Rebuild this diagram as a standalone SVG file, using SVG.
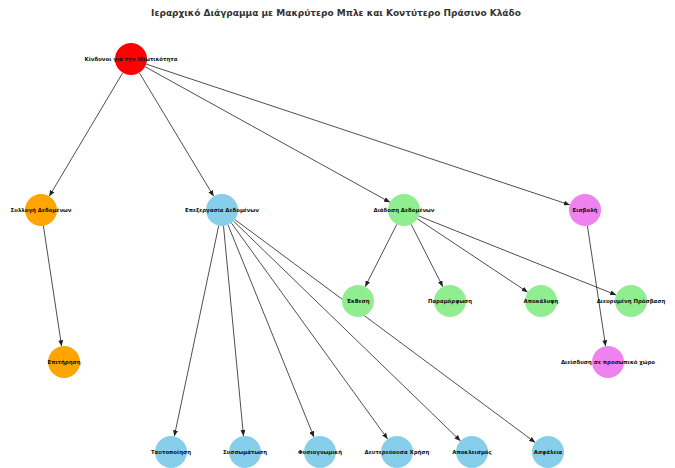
<svg xmlns="http://www.w3.org/2000/svg" width="675" height="468" viewBox="0 0 675 468">
<defs>
<marker id="arr" markerUnits="userSpaceOnUse" markerWidth="6" markerHeight="5" viewBox="0 0 6 5" refX="6" refY="2.5" orient="auto">
<path d="M0,0 L6,2.5 L0,5 z" fill="#222"/>
</marker>
</defs>
<style>
.e{stroke:#222;stroke-width:0.8;fill:none;marker-end:url(#arr)}
.n{stroke:none}
.t{font-family:"DejaVu Sans",sans-serif;font-weight:bold;font-size:5.4px;fill:#111;text-anchor:middle;dominant-baseline:central}
.title{font-family:"DejaVu Sans",sans-serif;font-weight:bold;font-size:9px;fill:#333;text-anchor:middle}
</style>
<rect width="675" height="468" fill="#fff"/>
<text class="title" x="336" y="16">Ιεραρχικό Διάγραμμα με Μακρύτερο Μπλε και Κοντύτερο Πράσινο Κλάδο</text>
<g id="edges">
<line class="e" x1="122.8" y1="72.7" x2="49.2" y2="196.3"/>
<line class="e" x1="139.3" y1="72.7" x2="213.7" y2="196.3"/>
<line class="e" x1="145.0" y1="66.7" x2="390.0" y2="202.3"/>
<line class="e" x1="146.2" y1="64.1" x2="569.8" y2="204.9"/>
<line class="e" x1="43.4" y1="225.8" x2="61.6" y2="346.2"/>
<line class="e" x1="587.4" y1="225.8" x2="605.6" y2="346.2"/>
<line class="e" x1="396.8" y1="224.3" x2="365.2" y2="286.7"/>
<line class="e" x1="411.2" y1="224.3" x2="442.8" y2="286.7"/>
<line class="e" x1="417.3" y1="218.8" x2="527.7" y2="292.2"/>
<line class="e" x1="418.8" y1="216.0" x2="616.2" y2="295.0"/>
<line class="e" x1="218.7" y1="225.7" x2="174.3" y2="436.3"/>
<line class="e" x1="223.5" y1="225.9" x2="243.5" y2="436.1"/>
<line class="e" x1="228.0" y1="224.8" x2="314.0" y2="437.2"/>
<line class="e" x1="231.4" y1="223.0" x2="387.6" y2="439.0"/>
<line class="e" x1="233.5" y1="221.1" x2="460.5" y2="440.9"/>
<line class="e" x1="234.8" y1="219.5" x2="535.2" y2="442.5"/>
</g>
<g id="root"><circle class="n" cx="131" cy="59" r="16" fill="#ff0000"/><text class="t" x="131" y="59">Κίνδυνοι για την Ιδιωτικότητα</text></g>
<g id="n_syllogi"><circle class="n" cx="41" cy="210" r="16" fill="#ffa500"/><text class="t" x="41" y="210">Συλλογή Δεδομένων</text></g>
<g id="n_epexergasia"><circle class="n" cx="222" cy="210" r="16" fill="#87ceeb"/><text class="t" x="222" y="210">Επεξεργασία Δεδομένων</text></g>
<g id="n_diadosi"><circle class="n" cx="404" cy="210" r="16" fill="#90ee90"/><text class="t" x="404" y="210">Διάδοση Δεδομένων</text></g>
<g id="n_eisvoli"><circle class="n" cx="585" cy="210" r="16" fill="#ee82ee"/><text class="t" x="585" y="210">Εισβολή</text></g>
<g id="n_epitirisi"><circle class="n" cx="64" cy="362" r="16" fill="#ffa500"/><text class="t" x="64" y="362">Επιτήρηση</text></g>
<g id="n_diisdysi"><circle class="n" cx="608" cy="362" r="16" fill="#ee82ee"/><text class="t" x="608" y="362">Διείσδυση σε προσωπικό χώρο</text></g>
<g id="n_ekthesi"><circle class="n" cx="358" cy="301" r="16" fill="#90ee90"/><text class="t" x="358" y="301">Έκθεση</text></g>
<g id="n_paramorfosi"><circle class="n" cx="450" cy="301" r="16" fill="#90ee90"/><text class="t" x="450" y="301">Παραμόρφωση</text></g>
<g id="n_apokalypsi"><circle class="n" cx="541" cy="301" r="16" fill="#90ee90"/><text class="t" x="541" y="301">Αποκάλυψη</text></g>
<g id="n_dievrymeni"><circle class="n" cx="631" cy="301" r="16" fill="#90ee90"/><text class="t" x="631" y="301">Διευρυμένη Πρόσβαση</text></g>
<g id="n_taftopoiisi"><circle class="n" cx="171" cy="452" r="16" fill="#87ceeb"/><text class="t" x="171" y="452">Ταυτοποίηση</text></g>
<g id="n_syssomatosi"><circle class="n" cx="245" cy="452" r="16" fill="#87ceeb"/><text class="t" x="245" y="452">Συσσωμάτωση</text></g>
<g id="n_fysiognomiki"><circle class="n" cx="320" cy="452" r="16" fill="#87ceeb"/><text class="t" x="320" y="452">Φυσιογνωμική</text></g>
<g id="n_defterevousa"><circle class="n" cx="397" cy="452" r="16" fill="#87ceeb"/><text class="t" x="397" y="452">Δευτερεύουσα Χρήση</text></g>
<g id="n_apokleismos"><circle class="n" cx="472" cy="452" r="16" fill="#87ceeb"/><text class="t" x="472" y="452">Αποκλεισμός</text></g>
<g id="n_asfaleia"><circle class="n" cx="548" cy="452" r="16" fill="#87ceeb"/><text class="t" x="548" y="452">Ασφάλεια</text></g>
</svg>
